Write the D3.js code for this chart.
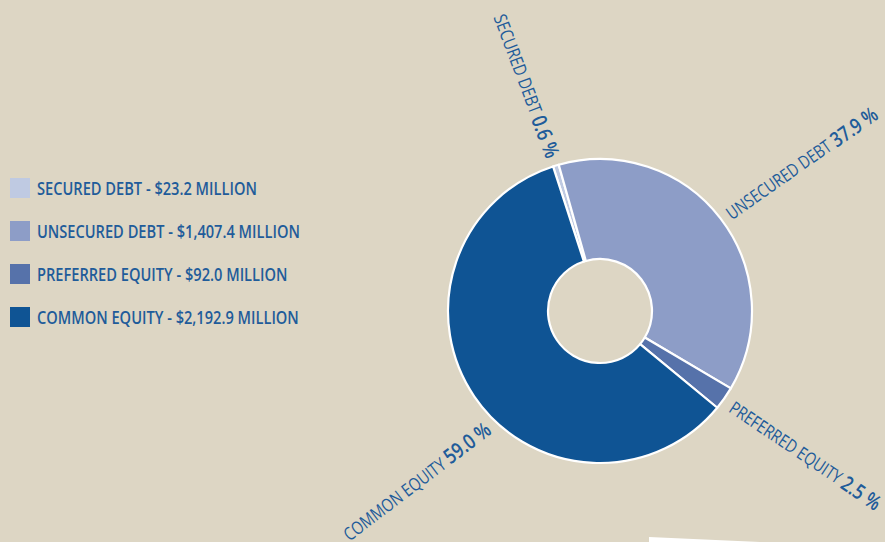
<!DOCTYPE html>
<html>
<head>
<meta charset="utf-8">
<script src="https://cdn.jsdelivr.net/npm/d3@7"></script>
<style>
  html, body { margin: 0; padding: 0; background: #ddd6c4; }
  svg { display: block; }
</style>
</head>
<body>
<svg id="chart" width="885" height="542"></svg>
<script>
// ---- data ----
const categories = ["SECURED DEBT", "UNSECURED DEBT", "PREFERRED EQUITY", "COMMON EQUITY"];
const values = [23.2, 1407.4, 92.0, 2192.9];
const unitLabel = "MILLION";
const colors = ["#bfcae2", "#8d9dc7", "#5672aa", "#0f5494"];

// ---- layout (not data) ----
const W = 885, H = 542;
const cx = 600, cy = 311, rOuter = 152, rInner = 52;
const startDeg = -18;
const labelNudge = [ // angle shift (deg), radius, rotation shift (deg), target length
  { da: 0.4, r: 161, dr: -3.9, len: 152 },
  { da: 0.7, r: 160, dr: 2.5, len: 180 },
  { da: 0.7, r: 162, dr: -1.2, len: 178 },
  { da: -11.7, r: 161, dr: -3.0, len: 180 }
];
const legendTargetWidth = 220; // width of first legend line
const textColor = "#1f5c9a";
const fontFam = "'Open Sans','Noto Sans',sans-serif";

const svg = d3.select("#chart");
svg.append("rect").attr("width", W).attr("height", H).attr("fill", "#ddd6c4");

const total = d3.sum(values);
const pctFmt = d3.format(".1f");
const moneyFmt = d3.format(",.1f");
const rad = d => d * Math.PI / 180;

const pie = d3.pie().sort(null).value(d => d.value)
  .startAngle(rad(startDeg)).endAngle(rad(startDeg + 360));
const arc = d3.arc().innerRadius(rInner).outerRadius(rOuter);

const data = categories.map((c, i) => ({ name: c, value: values[i], color: colors[i], i }));
const arcs = pie(data);

const g = svg.append("g").attr("transform", `translate(${cx},${cy})`);
g.selectAll("path").data(arcs).join("path")
  .attr("d", arc)
  .attr("fill", d => d.data.color)
  .attr("stroke", "#ffffff")
  .attr("stroke-width", 2.2)
  .attr("stroke-linejoin", "round");

// radial labels
arcs.forEach(d => {
  const n = labelNudge[d.data.i];
  const midDeg = (d.startAngle + d.endAngle) / 2 * 180 / Math.PI;
  const a = rad(midDeg + n.da);
  const x = Math.sin(a) * n.r, y = -Math.cos(a) * n.r;
  const norm = ((midDeg % 360) + 360) % 360;
  const right = norm < 180;
  const rot = (right ? midDeg - 90 : midDeg + 90) + n.dr;
  const t = g.append("text")
    .attr("text-anchor", right ? "start" : "end")
    .attr("dominant-baseline", "central")
    .attr("font-family", fontFam)
    .attr("fill", textColor);
  t.append("tspan").attr("font-size", 18).attr("font-weight", 400).text(d.data.name + " ");
  t.append("tspan").attr("font-size", 21).attr("font-weight", 600)
    .text(pctFmt(d.data.value / total * 100) + " %");
  const w = t.node().getComputedTextLength();
  const sx = w > 0 ? n.len / w : 0.8;
  t.attr("transform", `translate(${x},${y}) rotate(${rot}) scale(${sx},1)`);
});

// legend
const leg = svg.append("g");
let legSx = null;
data.forEach((d, i) => {
  const y = 188 + i * 43;
  leg.append("rect").attr("x", 10).attr("y", y - 10).attr("width", 20).attr("height", 20).attr("fill", d.color);
  const t = leg.append("text").attr("x", 0).attr("y", 0)
    .attr("dominant-baseline", "central")
    .attr("font-family", fontFam).attr("font-size", 18).attr("font-weight", 600)
    .attr("fill", textColor)
    .text(`${d.name} - $${moneyFmt(d.value)} ${unitLabel}`);
  if (legSx === null) {
    const w = t.node().getComputedTextLength();
    legSx = w > 0 ? legendTargetWidth / w : 0.78;
  }
  t.attr("transform", `translate(37,${y}) scale(${legSx},1)`);
});

// white card corner at bottom right
svg.append("path").attr("d", "M649,537 L760,542 L649,542 Z").attr("fill", "#ffffff");
</script>
</body>
</html>
